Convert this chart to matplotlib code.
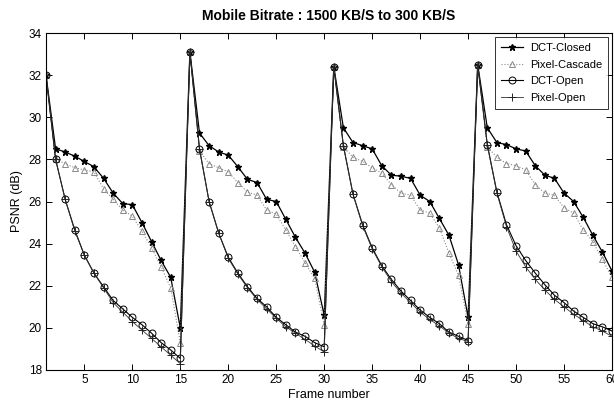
import numpy as np
import matplotlib
matplotlib.use('Agg')
import matplotlib.pyplot as plt

plt.rcParams['font.family'] = ['Liberation Sans Narrow', 'Liberation Sans', 'DejaVu Sans']

frames = list(range(1, 61))

dct_closed = [32.0, 28.5, 28.35, 28.15, 27.9, 27.65, 27.1, 26.4, 25.9, 25.85, 25.0, 24.1, 23.2, 22.4, 20.0,
              33.1, 29.25, 28.65, 28.35, 28.2, 27.65, 27.05, 26.9, 26.1, 26.0, 25.15, 24.3, 23.55, 22.65, 20.6,
              32.4, 29.5, 28.8, 28.65, 28.5, 27.7, 27.25, 27.2, 27.1, 26.3, 26.0, 25.2, 24.4, 23.0, 20.5,
              32.5, 29.5, 28.8, 28.7, 28.5, 28.4, 27.7, 27.25, 27.1, 26.4, 26.0, 25.25, 24.4, 23.6, 22.7]

pixel_cascade = [32.0, 28.0, 27.8, 27.6, 27.5, 27.4, 26.6, 26.1, 25.6, 25.3, 24.6, 23.8, 22.9, 21.9, 19.3,
                 33.1, 28.4, 27.8, 27.6, 27.4, 26.9, 26.45, 26.3, 25.6, 25.4, 24.65, 23.85, 23.1, 22.35, 20.15,
                 32.4, 28.6, 28.1, 27.9, 27.6, 27.35, 26.8, 26.4, 26.3, 25.6, 25.45, 24.75, 23.55, 22.5, 20.2,
                 32.5, 28.6, 28.1, 27.8, 27.7, 27.5, 26.8, 26.4, 26.3, 25.7, 25.45, 24.65, 24.1, 23.25, 22.4]

dct_open = [32.0, 28.0, 26.1, 24.65, 23.45, 22.6, 21.95, 21.3, 20.9, 20.5, 20.15, 19.75, 19.3, 18.95, 18.55,
            33.1, 28.5, 26.0, 24.5, 23.35, 22.6, 21.95, 21.4, 21.0, 20.5, 20.15, 19.8, 19.6, 19.3, 19.1,
            32.4, 28.65, 26.35, 24.9, 23.8, 22.95, 22.3, 21.75, 21.3, 20.85, 20.5, 20.2, 19.8, 19.6, 19.4,
            32.5, 28.7, 26.45, 24.9, 23.9, 23.2, 22.6, 22.05, 21.55, 21.2, 20.8, 20.5, 20.2, 20.05, 19.85]

pixel_open = [32.0, 28.0, 26.1, 24.6, 23.45, 22.6, 21.9, 21.2, 20.75, 20.3, 19.9, 19.5, 19.1, 18.7, 18.3,
              33.1, 28.5, 26.0, 24.5, 23.3, 22.55, 21.9, 21.35, 20.9, 20.45, 20.05, 19.75, 19.45, 19.15, 18.85,
              32.4, 28.65, 26.35, 24.85, 23.75, 22.9, 22.2, 21.65, 21.2, 20.75, 20.4, 20.1, 19.75, 19.5, 19.35,
              32.5, 28.7, 26.4, 24.8, 23.65, 22.9, 22.3, 21.8, 21.35, 21.0, 20.65, 20.35, 20.05, 19.85, 19.6]

xticks = list(range(5, 61, 5))
yticks = list(range(18, 35, 2))

fig = plt.figure(figsize=(6.14, 4.05), dpi=100)
ax = fig.add_axes([46/614, 35/405, 566/614, 337/405])

ax.plot(frames, dct_closed, color='k', lw=0.9, marker='*', ms=5, mfc='k', mec='k', label='DCT-Closed')
ax.plot(frames, pixel_cascade, color='#8a8a8a', lw=0.8, ls=':', marker='^', ms=4.5, mfc='none', mec='#8a8a8a',
        mew=0.7, label='Pixel-Cascade')
ax.plot(frames, dct_open, color='k', lw=0.8, marker='o', ms=5, mfc='none', mec='k', mew=0.7, label='DCT-Open')
ax.plot(frames, pixel_open, color='#333333', lw=0.6, marker='+', ms=5.5, mec='#222222', mew=0.7, label='Pixel-Open')

ax.set_xlim(1, 60)
ax.set_ylim(18, 34)
ax.set_xticks(xticks)
ax.set_yticks(yticks)
ax.tick_params(direction='in', top=True, right=True, length=4, width=0.7, labelsize=8.5, pad=3)
for s in ax.spines.values():
    s.set_linewidth(0.8)

ax.set_title('Mobile Bitrate : 1500 KB/S to 300 KB/S', fontsize=10, fontweight='bold', pad=9)
ax.set_xlabel('Frame number', fontsize=9, labelpad=2)
ax.set_ylabel('PSNR (dB)', fontsize=9, labelpad=4)

leg = ax.legend(loc='upper right', fontsize=8, frameon=True, fancybox=False, edgecolor='k',
                handlelength=2.0, handletextpad=0.6, borderpad=0.5, labelspacing=0.6, borderaxespad=0.4)
leg.get_frame().set_linewidth(0.7)

fig.savefig('out.png', dpi=100)
